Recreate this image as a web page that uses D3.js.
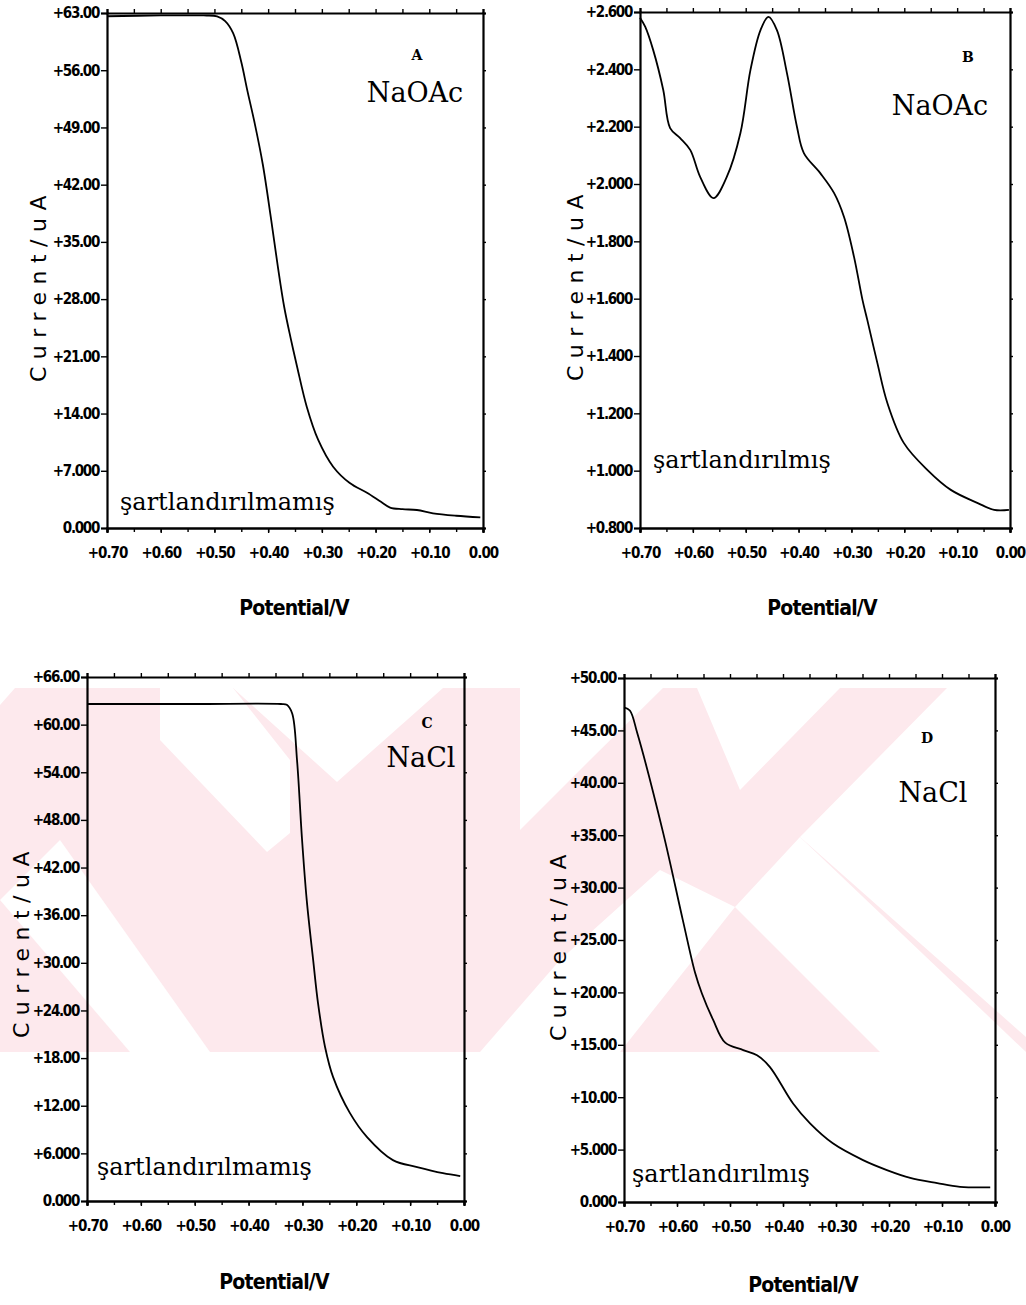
<!DOCTYPE html>
<html><head><meta charset="utf-8">
<script src="https://cdn.jsdelivr.net/npm/d3@7"></script>
<style>body{margin:0;background:#fff}</style>
</head><body>
<svg id="c" width="1026" height="1305"></svg>
<script>
// ---------- data ----------
const xTicks = [0.70, 0.60, 0.50, 0.40, 0.30, 0.20, 0.10, 0.00];
const xTickLabels = ["+0.70", "+0.60", "+0.50", "+0.40", "+0.30", "+0.20", "+0.10", "0.00"];
const xMinorTicks = [0.70, 0.65, 0.60, 0.55, 0.50, 0.45, 0.40, 0.35, 0.30, 0.25, 0.20, 0.15, 0.10, 0.05, 0.00];

// Panel A : NaOAc, şartlandırılmamış
const potA = [0.700, 0.600, 0.520, 0.495, 0.480, 0.465, 0.450, 0.439, 0.425, 0.410, 0.395, 0.382, 0.370, 0.358, 0.346, 0.328, 0.307, 0.279, 0.248, 0.216, 0.190, 0.173, 0.150, 0.123, 0.093, 0.050, 0.005];
const curA = [62.6, 62.7, 62.7, 62.6, 62.0, 60.5, 57.0, 53.6, 49.5, 44.5, 38.0, 32.0, 27.0, 23.2, 19.7, 14.8, 10.8, 7.5, 5.5, 4.3, 3.2, 2.5, 2.3, 2.2, 1.8, 1.5, 1.3];
const yTicksA = [0, 7, 14, 21, 28, 35, 42, 49, 56, 63];
const yLabelsA = ["0.000", "+7.000", "+14.00", "+21.00", "+28.00", "+35.00", "+42.00", "+49.00", "+56.00", "+63.00"];

// Panel B : NaOAc, şartlandırılmış
const potB = [0.700, 0.690, 0.675, 0.656, 0.643, 0.624, 0.605, 0.586, 0.561, 0.536, 0.510, 0.491, 0.472, 0.457, 0.441, 0.422, 0.403, 0.390, 0.359, 0.333, 0.314, 0.295, 0.279, 0.270, 0.251, 0.232, 0.201, 0.156, 0.112, 0.061, 0.030, 0.002];
const curB = [2.58, 2.548, 2.467, 2.328, 2.195, 2.160, 2.119, 2.024, 1.951, 2.024, 2.178, 2.398, 2.537, 2.583, 2.537, 2.387, 2.199, 2.108, 2.038, 1.969, 1.885, 1.745, 1.595, 1.526, 1.376, 1.236, 1.097, 1.002, 0.933, 0.887, 0.863, 0.863];
const yTicksB = [0.8, 1.0, 1.2, 1.4, 1.6, 1.8, 2.0, 2.2, 2.4, 2.6];
const yLabelsB = ["+0.800", "+1.000", "+1.200", "+1.400", "+1.600", "+1.800", "+2.000", "+2.200", "+2.400", "+2.600"];

// Panel C : NaCl, şartlandırılmamış
const potC = [0.700, 0.500, 0.340, 0.329, 0.319, 0.310, 0.301, 0.292, 0.280, 0.271, 0.258, 0.243, 0.212, 0.180, 0.132, 0.087, 0.039, 0.007];
const curC = [62.6, 62.6, 62.6, 62.5, 61.4, 55.5, 45.8, 37.9, 30.3, 24.9, 19.4, 15.6, 11.1, 8.05, 5.15, 4.27, 3.5, 3.14];
const yTicksC = [0, 6, 12, 18, 24, 30, 36, 42, 48, 54, 60, 66];
const yLabelsC = ["0.000", "+6.000", "+12.00", "+18.00", "+24.00", "+30.00", "+36.00", "+42.00", "+48.00", "+54.00", "+60.00", "+66.00"];

// Panel D : NaCl, şartlandırılmış
const potD = [0.700, 0.689, 0.675, 0.626, 0.589, 0.566, 0.553, 0.532, 0.509, 0.475, 0.449, 0.425, 0.381, 0.349, 0.306, 0.249, 0.204, 0.160, 0.109, 0.066, 0.009];
const curD = [47.2, 46.9, 44.75, 35.2, 26.9, 21.9, 19.9, 17.4, 15.2, 14.5, 14.0, 12.9, 9.4, 7.5, 5.6, 4.0, 3.05, 2.3, 1.8, 1.45, 1.4];
const yTicksD = [0, 5, 10, 15, 20, 25, 30, 35, 40, 45, 50];
const yLabelsD = ["0.000", "+5.000", "+10.00", "+15.00", "+20.00", "+25.00", "+30.00", "+35.00", "+40.00", "+45.00", "+50.00"];

const xTitle = "Potential/V";
const yTitle = "Current/uA";

// ---------- layout ----------
const panels = [
  {pot: potA, cur: curA, yt: yTicksA, yl: yLabelsA, x0: 107, x1: 483, yTop: 13, yBot: 528,
   letter: "A", letterPos: [417, 60], salt: "NaOAc", saltPos: [415, 102], cond: "şartlandırılmamış", condPos: [120, 510],
   yTitlePos: [36, 281], xTitlePos: [294, 615]},
  {pot: potB, cur: curB, yt: yTicksB, yl: yLabelsB, x0: 640, x1: 1010, yTop: 12, yBot: 528,
   letter: "B", letterPos: [968, 62], salt: "NaOAc", saltPos: [940, 115], cond: "şartlandırılmış", condPos: [653, 468],
   yTitlePos: [573, 280], xTitlePos: [822, 615]},
  {pot: potC, cur: curC, yt: yTicksC, yl: yLabelsC, x0: 87, x1: 464, yTop: 677, yBot: 1201,
   letter: "C", letterPos: [427, 728], salt: "NaCl", saltPos: [421, 767], cond: "şartlandırılmamış", condPos: [97, 1175],
   yTitlePos: [19, 937], xTitlePos: [274, 1289]},
  {pot: potD, cur: curD, yt: yTicksD, yl: yLabelsD, x0: 624, x1: 995, yTop: 678, yBot: 1202,
   letter: "D", letterPos: [927, 743], salt: "NaCl", saltPos: [933, 802], cond: "şartlandırılmış", condPos: [632, 1182],
   yTitlePos: [556, 940], xTitlePos: [803, 1292]}
];

const svg = d3.select("#c");
svg.append("rect").attr("width", 1026).attr("height", 1305).attr("fill", "#fff");

// ---------- watermark (pink band with white chevrons) ----------
const wm = svg.append("g");
wm.append("rect").attr("x", 0).attr("y", 688).attr("width", 1026).attr("height", 364).attr("fill", "#fde9ed");
const wmWhite = [
  [[0,688],[15,688],[0,705]],
  [[160,688],[233,688],[290,760],[290,833],[267,852],[160,740]],
  [[233,688],[443,688],[337,782]],
  [[520,688],[663,688],[590,760],[520,830]],
  [[697,688],[797,688],[840,688],[740,790]],
  [[947,688],[1026,688],[1026,1037],[800,837]],
  [[735,907],[800,837],[1026,1052],[880,1052]],
  [[480,1052],[560,960],[660,870],[735,907],[620,1052]],
  [[0,900],[60,840],[210,1052],[130,1052]]
];
wm.selectAll("polygon").data(wmWhite).join("polygon")
  .attr("points", d => d.map(p => p.join(",")).join(" ")).attr("fill", "#fff");

const tickFont = "'Liberation Sans Narrow','DejaVu Sans Condensed',sans-serif";

panels.forEach(p => {
  const x = d3.scaleLinear().domain([0.70, 0.00]).range([p.x0, p.x1]);
  const y = d3.scaleLinear().domain([p.yt[0], p.yt[p.yt.length - 1]]).range([p.yBot, p.yTop]);
  const g = svg.append("g");

  const gb = g.append("g").attr("transform", `translate(0,${p.yBot})`)
    .call(d3.axisBottom(x).tickValues(xTicks).tickSize(5).tickPadding(14)
      .tickFormat((d, i) => xTickLabels[i]));
  g.append("g").attr("transform", `translate(0,${p.yBot})`)
    .call(d3.axisBottom(x).tickValues(xMinorTicks).tickSize(4).tickFormat(""));
  g.append("g").attr("transform", `translate(0,${p.yTop})`)
    .call(d3.axisTop(x).tickValues(xMinorTicks).tickSize(4).tickFormat(""));
  const gl = g.append("g").attr("transform", `translate(${p.x0},0)`)
    .call(d3.axisLeft(y).tickValues(p.yt).tickSize(6).tickPadding(2)
      .tickFormat((d, i) => p.yl[i]));
  g.append("g").attr("transform", `translate(${p.x1},0)`)
    .call(d3.axisRight(y).tickValues(p.yt).tickSize(3).tickFormat(""));

  g.selectAll(".domain").attr("stroke", "#000").attr("stroke-width", 2.2);
  g.selectAll(".tick line").attr("stroke", "#000").attr("stroke-width", 1.4);
  gb.selectAll("text").attr("font-family", tickFont).attr("font-weight", "bold")
    .attr("font-size", 15).attr("letter-spacing", "-1px").attr("fill", "#000");
  gl.selectAll("text").attr("font-family", tickFont).attr("font-weight", "bold")
    .attr("font-size", 15).attr("letter-spacing", "-1.3px").attr("fill", "#000");

  const pts = p.pot.map((v, i) => [v, p.cur[i]]);
  g.append("path").datum(pts)
    .attr("d", d3.line().x(d => x(d[0])).y(d => y(d[1])).curve(d3.curveCatmullRom.alpha(0.5)))
    .attr("fill", "none").attr("stroke", "#000").attr("stroke-width", 1.8);

  g.append("text").attr("x", p.xTitlePos[0]).attr("y", p.xTitlePos[1])
    .attr("text-anchor", "middle").attr("font-family", tickFont).attr("font-weight", "bold")
    .attr("font-size", 21).attr("letter-spacing", "-0.8px").text(xTitle);
  g.append("text").attr("transform", `translate(${p.yTitlePos[0] + 2},${p.yTitlePos[1] + 4}) rotate(-90)`)
    .attr("text-anchor", "middle").attr("dy", "0.35em")
    .attr("font-family", "'DejaVu Sans',sans-serif").attr("font-size", 22).attr("letter-spacing", "7.5px")
    .text(yTitle);

  g.append("text").attr("x", p.letterPos[0]).attr("y", p.letterPos[1]).attr("text-anchor", "middle")
    .attr("font-family", "'DejaVu Serif',serif").attr("font-weight", "bold").attr("font-size", 14).text(p.letter);
  g.append("text").attr("x", p.saltPos[0]).attr("y", p.saltPos[1]).attr("text-anchor", "middle")
    .attr("font-family", "'DejaVu Serif',serif").attr("font-size", 27).text(p.salt);
  g.append("text").attr("x", p.condPos[0]).attr("y", p.condPos[1])
    .attr("font-family", "'DejaVu Serif',serif").attr("font-size", 24).text(p.cond);
});
</script>
</body></html>
